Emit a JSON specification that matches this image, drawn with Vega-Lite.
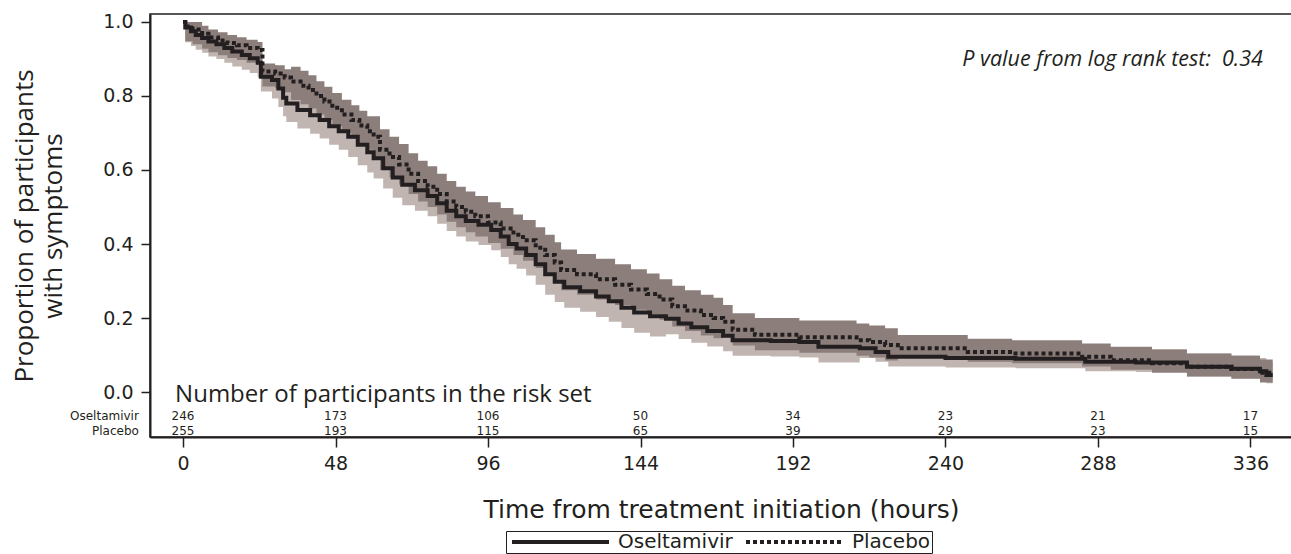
{
  "$schema": "https://vega.github.io/schema/vega-lite/v6.json",
  "width": 1142,
  "height": 423,
  "autosize": {"type": "none"},
  "padding": {"left": 150, "top": 14, "right": 0, "bottom": 117},
  "background": "white",
  "config": {
    "view": {"stroke": "#231f20", "strokeWidth": 1.5},
    "axis": {"grid": false, "domainColor": "#231f20", "tickColor": "#231f20", "labelColor": "#231f20", "titleColor": "#231f20", "labelFont": "DejaVu Sans", "titleFont": "DejaVu Sans", "titleFontWeight": "normal"}
  },
  "datasets": {
    "km": [
      {"g":"Oseltamivir","t":0,"s":1.0,"lo":1.0,"hi":1.0},
      {"g":"Oseltamivir","t":0.7,"s":0.985,"lo":0.945,"hi":1.0},
      {"g":"Oseltamivir","t":2.5,"s":0.975,"lo":0.935,"hi":0.997},
      {"g":"Oseltamivir","t":4,"s":0.965,"lo":0.925,"hi":0.987},
      {"g":"Oseltamivir","t":6,"s":0.957,"lo":0.917,"hi":0.979},
      {"g":"Oseltamivir","t":8,"s":0.947,"lo":0.907,"hi":0.969},
      {"g":"Oseltamivir","t":10.5,"s":0.94,"lo":0.90,"hi":0.962},
      {"g":"Oseltamivir","t":13,"s":0.93,"lo":0.89,"hi":0.952},
      {"g":"Oseltamivir","t":15.5,"s":0.92,"lo":0.88,"hi":0.942},
      {"g":"Oseltamivir","t":18.5,"s":0.911,"lo":0.871,"hi":0.933},
      {"g":"Oseltamivir","t":21,"s":0.902,"lo":0.862,"hi":0.924},
      {"g":"Oseltamivir","t":23.5,"s":0.89,"lo":0.85,"hi":0.912},
      {"g":"Oseltamivir","t":24.5,"s":0.852,"lo":0.812,"hi":0.874},
      {"g":"Oseltamivir","t":28,"s":0.843,"lo":0.793,"hi":0.883},
      {"g":"Oseltamivir","t":30,"s":0.82,"lo":0.77,"hi":0.86},
      {"g":"Oseltamivir","t":31.5,"s":0.795,"lo":0.745,"hi":0.835},
      {"g":"Oseltamivir","t":32.5,"s":0.78,"lo":0.73,"hi":0.82},
      {"g":"Oseltamivir","t":36,"s":0.762,"lo":0.712,"hi":0.802},
      {"g":"Oseltamivir","t":40,"s":0.748,"lo":0.698,"hi":0.788},
      {"g":"Oseltamivir","t":43,"s":0.735,"lo":0.685,"hi":0.775},
      {"g":"Oseltamivir","t":46,"s":0.718,"lo":0.668,"hi":0.758},
      {"g":"Oseltamivir","t":49,"s":0.705,"lo":0.655,"hi":0.745},
      {"g":"Oseltamivir","t":52,"s":0.69,"lo":0.635,"hi":0.745},
      {"g":"Oseltamivir","t":55,"s":0.668,"lo":0.613,"hi":0.723},
      {"g":"Oseltamivir","t":58,"s":0.648,"lo":0.593,"hi":0.703},
      {"g":"Oseltamivir","t":60,"s":0.632,"lo":0.577,"hi":0.687},
      {"g":"Oseltamivir","t":63,"s":0.605,"lo":0.55,"hi":0.66},
      {"g":"Oseltamivir","t":66,"s":0.58,"lo":0.525,"hi":0.635},
      {"g":"Oseltamivir","t":69,"s":0.56,"lo":0.505,"hi":0.615},
      {"g":"Oseltamivir","t":73,"s":0.545,"lo":0.49,"hi":0.6},
      {"g":"Oseltamivir","t":77,"s":0.53,"lo":0.475,"hi":0.585},
      {"g":"Oseltamivir","t":80,"s":0.51,"lo":0.455,"hi":0.565},
      {"g":"Oseltamivir","t":83,"s":0.49,"lo":0.435,"hi":0.545},
      {"g":"Oseltamivir","t":86,"s":0.475,"lo":0.42,"hi":0.53},
      {"g":"Oseltamivir","t":89,"s":0.462,"lo":0.407,"hi":0.517},
      {"g":"Oseltamivir","t":93,"s":0.452,"lo":0.397,"hi":0.507},
      {"g":"Oseltamivir","t":97,"s":0.438,"lo":0.383,"hi":0.493},
      {"g":"Oseltamivir","t":100,"s":0.42,"lo":0.365,"hi":0.475},
      {"g":"Oseltamivir","t":102.5,"s":0.4,"lo":0.345,"hi":0.455},
      {"g":"Oseltamivir","t":105,"s":0.388,"lo":0.333,"hi":0.443},
      {"g":"Oseltamivir","t":108,"s":0.37,"lo":0.315,"hi":0.425},
      {"g":"Oseltamivir","t":111,"s":0.345,"lo":0.29,"hi":0.4},
      {"g":"Oseltamivir","t":114,"s":0.318,"lo":0.263,"hi":0.373},
      {"g":"Oseltamivir","t":117,"s":0.298,"lo":0.243,"hi":0.353},
      {"g":"Oseltamivir","t":120,"s":0.283,"lo":0.228,"hi":0.338},
      {"g":"Oseltamivir","t":125,"s":0.272,"lo":0.217,"hi":0.327},
      {"g":"Oseltamivir","t":130,"s":0.258,"lo":0.203,"hi":0.313},
      {"g":"Oseltamivir","t":134,"s":0.245,"lo":0.19,"hi":0.3},
      {"g":"Oseltamivir","t":138,"s":0.228,"lo":0.173,"hi":0.283},
      {"g":"Oseltamivir","t":142,"s":0.215,"lo":0.16,"hi":0.27},
      {"g":"Oseltamivir","t":147,"s":0.205,"lo":0.15,"hi":0.26},
      {"g":"Oseltamivir","t":152,"s":0.198,"lo":0.156,"hi":0.243},
      {"g":"Oseltamivir","t":156,"s":0.185,"lo":0.143,"hi":0.23},
      {"g":"Oseltamivir","t":160,"s":0.175,"lo":0.133,"hi":0.22},
      {"g":"Oseltamivir","t":165,"s":0.165,"lo":0.123,"hi":0.21},
      {"g":"Oseltamivir","t":170,"s":0.152,"lo":0.11,"hi":0.197},
      {"g":"Oseltamivir","t":173,"s":0.14,"lo":0.098,"hi":0.185},
      {"g":"Oseltamivir","t":185,"s":0.138,"lo":0.096,"hi":0.183},
      {"g":"Oseltamivir","t":194,"s":0.135,"lo":0.093,"hi":0.18},
      {"g":"Oseltamivir","t":200,"s":0.122,"lo":0.08,"hi":0.167},
      {"g":"Oseltamivir","t":213,"s":0.118,"lo":0.092,"hi":0.154},
      {"g":"Oseltamivir","t":218,"s":0.108,"lo":0.082,"hi":0.144},
      {"g":"Oseltamivir","t":222,"s":0.095,"lo":0.069,"hi":0.131},
      {"g":"Oseltamivir","t":240,"s":0.092,"lo":0.066,"hi":0.128},
      {"g":"Oseltamivir","t":262,"s":0.09,"lo":0.064,"hi":0.126},
      {"g":"Oseltamivir","t":284,"s":0.082,"lo":0.056,"hi":0.118},
      {"g":"Oseltamivir","t":300,"s":0.08,"lo":0.054,"hi":0.116},
      {"g":"Oseltamivir","t":316,"s":0.068,"lo":0.042,"hi":0.104},
      {"g":"Oseltamivir","t":330,"s":0.063,"lo":0.037,"hi":0.099},
      {"g":"Oseltamivir","t":339,"s":0.056,"lo":0.032,"hi":0.092},
      {"g":"Oseltamivir","t":341,"s":0.046,"lo":0.024,"hi":0.082},
      {"g":"Oseltamivir","t":343,"s":0.046,"lo":0.024,"hi":0.082},
      {"g":"Placebo","t":0,"s":1.0,"lo":1.0,"hi":1.0},
      {"g":"Placebo","t":0.7,"s":0.988,"lo":0.948,"hi":1.0},
      {"g":"Placebo","t":3,"s":0.98,"lo":0.94,"hi":1.0},
      {"g":"Placebo","t":6,"s":0.968,"lo":0.928,"hi":0.99},
      {"g":"Placebo","t":8,"s":0.958,"lo":0.918,"hi":0.98},
      {"g":"Placebo","t":11,"s":0.95,"lo":0.91,"hi":0.972},
      {"g":"Placebo","t":14,"s":0.943,"lo":0.903,"hi":0.965},
      {"g":"Placebo","t":17,"s":0.937,"lo":0.897,"hi":0.959},
      {"g":"Placebo","t":20,"s":0.93,"lo":0.89,"hi":0.952},
      {"g":"Placebo","t":23.5,"s":0.924,"lo":0.884,"hi":0.946},
      {"g":"Placebo","t":25,"s":0.866,"lo":0.826,"hi":0.888},
      {"g":"Placebo","t":29,"s":0.861,"lo":0.821,"hi":0.883},
      {"g":"Placebo","t":32,"s":0.85,"lo":0.81,"hi":0.872},
      {"g":"Placebo","t":34,"s":0.839,"lo":0.789,"hi":0.879},
      {"g":"Placebo","t":37,"s":0.828,"lo":0.778,"hi":0.868},
      {"g":"Placebo","t":39.5,"s":0.816,"lo":0.766,"hi":0.856},
      {"g":"Placebo","t":42,"s":0.8,"lo":0.75,"hi":0.84},
      {"g":"Placebo","t":44.5,"s":0.785,"lo":0.735,"hi":0.825},
      {"g":"Placebo","t":47,"s":0.768,"lo":0.718,"hi":0.808},
      {"g":"Placebo","t":50,"s":0.75,"lo":0.70,"hi":0.79},
      {"g":"Placebo","t":53,"s":0.735,"lo":0.685,"hi":0.775},
      {"g":"Placebo","t":55.5,"s":0.72,"lo":0.67,"hi":0.76},
      {"g":"Placebo","t":58,"s":0.705,"lo":0.655,"hi":0.745},
      {"g":"Placebo","t":60,"s":0.69,"lo":0.635,"hi":0.745},
      {"g":"Placebo","t":62,"s":0.655,"lo":0.6,"hi":0.71},
      {"g":"Placebo","t":65,"s":0.635,"lo":0.58,"hi":0.69},
      {"g":"Placebo","t":68,"s":0.615,"lo":0.56,"hi":0.67},
      {"g":"Placebo","t":71,"s":0.59,"lo":0.535,"hi":0.645},
      {"g":"Placebo","t":74,"s":0.57,"lo":0.515,"hi":0.625},
      {"g":"Placebo","t":77,"s":0.555,"lo":0.5,"hi":0.61},
      {"g":"Placebo","t":80,"s":0.535,"lo":0.48,"hi":0.59},
      {"g":"Placebo","t":83,"s":0.515,"lo":0.46,"hi":0.57},
      {"g":"Placebo","t":86,"s":0.5,"lo":0.445,"hi":0.555},
      {"g":"Placebo","t":89,"s":0.487,"lo":0.432,"hi":0.542},
      {"g":"Placebo","t":92,"s":0.475,"lo":0.42,"hi":0.53},
      {"g":"Placebo","t":96,"s":0.458,"lo":0.403,"hi":0.513},
      {"g":"Placebo","t":100,"s":0.442,"lo":0.387,"hi":0.497},
      {"g":"Placebo","t":104,"s":0.425,"lo":0.37,"hi":0.48},
      {"g":"Placebo","t":107,"s":0.41,"lo":0.355,"hi":0.465},
      {"g":"Placebo","t":111,"s":0.39,"lo":0.335,"hi":0.445},
      {"g":"Placebo","t":114,"s":0.37,"lo":0.315,"hi":0.425},
      {"g":"Placebo","t":117,"s":0.35,"lo":0.295,"hi":0.405},
      {"g":"Placebo","t":119,"s":0.33,"lo":0.275,"hi":0.385},
      {"g":"Placebo","t":124,"s":0.318,"lo":0.263,"hi":0.373},
      {"g":"Placebo","t":130,"s":0.305,"lo":0.25,"hi":0.36},
      {"g":"Placebo","t":136,"s":0.29,"lo":0.235,"hi":0.345},
      {"g":"Placebo","t":141,"s":0.277,"lo":0.222,"hi":0.332},
      {"g":"Placebo","t":146,"s":0.265,"lo":0.21,"hi":0.32},
      {"g":"Placebo","t":150,"s":0.25,"lo":0.195,"hi":0.305},
      {"g":"Placebo","t":154,"s":0.232,"lo":0.177,"hi":0.287},
      {"g":"Placebo","t":158,"s":0.22,"lo":0.165,"hi":0.275},
      {"g":"Placebo","t":163,"s":0.208,"lo":0.153,"hi":0.263},
      {"g":"Placebo","t":167,"s":0.2,"lo":0.145,"hi":0.255},
      {"g":"Placebo","t":170,"s":0.19,"lo":0.148,"hi":0.235},
      {"g":"Placebo","t":173,"s":0.168,"lo":0.126,"hi":0.213},
      {"g":"Placebo","t":180,"s":0.155,"lo":0.113,"hi":0.2},
      {"g":"Placebo","t":194,"s":0.148,"lo":0.106,"hi":0.193},
      {"g":"Placebo","t":212,"s":0.14,"lo":0.098,"hi":0.185},
      {"g":"Placebo","t":216,"s":0.135,"lo":0.093,"hi":0.18},
      {"g":"Placebo","t":221,"s":0.127,"lo":0.085,"hi":0.172},
      {"g":"Placebo","t":225,"s":0.118,"lo":0.092,"hi":0.154},
      {"g":"Placebo","t":247,"s":0.108,"lo":0.082,"hi":0.144},
      {"g":"Placebo","t":261,"s":0.104,"lo":0.078,"hi":0.14},
      {"g":"Placebo","t":283,"s":0.095,"lo":0.069,"hi":0.131},
      {"g":"Placebo","t":292,"s":0.086,"lo":0.06,"hi":0.122},
      {"g":"Placebo","t":305,"s":0.078,"lo":0.052,"hi":0.114},
      {"g":"Placebo","t":316,"s":0.068,"lo":0.042,"hi":0.104},
      {"g":"Placebo","t":330,"s":0.062,"lo":0.036,"hi":0.098},
      {"g":"Placebo","t":339,"s":0.052,"lo":0.026,"hi":0.088},
      {"g":"Placebo","t":343,"s":0.052,"lo":0.026,"hi":0.088}
    ],
    "risk": [
      {"g":"Oseltamivir","t":0,"n":246},{"g":"Oseltamivir","t":48,"n":173},{"g":"Oseltamivir","t":96,"n":106},{"g":"Oseltamivir","t":144,"n":50},
      {"g":"Oseltamivir","t":192,"n":34},{"g":"Oseltamivir","t":240,"n":23},{"g":"Oseltamivir","t":288,"n":21},{"g":"Oseltamivir","t":336,"n":17},
      {"g":"Placebo","t":0,"n":255},{"g":"Placebo","t":48,"n":193},{"g":"Placebo","t":96,"n":115},{"g":"Placebo","t":144,"n":65},
      {"g":"Placebo","t":192,"n":39},{"g":"Placebo","t":240,"n":29},{"g":"Placebo","t":288,"n":23},{"g":"Placebo","t":336,"n":15}
    ]
  },
  "layer": [
    {
      "data": {"name": "km"},
      "transform": [{"filter": "datum.g === 'Oseltamivir'"}],
      "mark": {"type": "area", "interpolate": "step-after", "color": "#c1b5b2", "opacity": 1},
      "encoding": {
        "x": {"field": "t", "type": "quantitative", "scale": {"domain": [-10.4, 349.07], "nice": false, "zero": false},
          "axis": {"values": [0,48,96,144,192,240,288,336], "title": "Time from treatment initiation (hours)", "tickSize": 10, "tickWidth": 1.5, "domainWidth": 2, "labelFontSize": 19, "labelPadding": 7, "titleFontSize": 25, "titlePadding": 24}},
        "y": {"field": "lo", "type": "quantitative", "scale": {"domain": [-0.1216, 1.0216], "nice": false, "zero": false},
          "axis": {"values": [0,0.2,0.4,0.6,0.8,1.0], "format": ".1f", "title": ["Proportion of participants", "with symptoms"], "titleFont": "Open Sans", "titleFontSize": 26, "titleLineHeight": 29, "titlePadding": 36, "tickSize": 9, "tickWidth": 1.5, "domainWidth": 2, "labelFontSize": 19, "labelPadding": 8}},
        "y2": {"field": "hi"}
      }
    },
    {
      "data": {"name": "km"},
      "transform": [{"filter": "datum.g === 'Placebo'"}],
      "mark": {"type": "area", "interpolate": "step-after", "color": "#8c7f7b", "opacity": 1},
      "encoding": {
        "x": {"field": "t", "type": "quantitative"},
        "y": {"field": "lo", "type": "quantitative"},
        "y2": {"field": "hi"}
      }
    },
    {
      "data": {"name": "km"},
      "mark": {"type": "line", "interpolate": "step-after", "color": "#231f20", "strokeWidth": 4, "strokeCap": "butt"},
      "encoding": {
        "x": {"field": "t", "type": "quantitative"},
        "y": {"field": "s", "type": "quantitative"},
        "detail": {"field": "g"},
        "strokeDash": {"field": "g", "type": "nominal", "scale": {"domain": ["Oseltamivir", "Placebo"], "range": [[1, 0], [4, 3]]},
          "legend": {"title": null, "orient": "none", "legendX": 356, "legendY": 517, "direction": "horizontal", "symbolType": "M-1,0H18.4", "symbolSize": 100, "symbolStrokeWidth": 4, "symbolStrokeColor": "#231f20", "labelFont": "DejaVu Sans", "labelFontSize": 20, "labelColor": "#231f20", "labelOffset": 91, "columnPadding": 5, "padding": 1, "strokeColor": "#231f20"}}
      }
    },
    {
      "data": {"name": "risk"},
      "transform": [{"filter": "datum.g === 'Oseltamivir'"}],
      "mark": {"type": "text", "font": "DejaVu Sans", "fontSize": 12, "color": "#231f20", "align": "center", "baseline": "alphabetic"},
      "encoding": {
        "x": {"field": "t", "type": "quantitative"},
        "y": {"datum": -0.0757},
        "text": {"field": "n"}
      }
    },
    {
      "data": {"name": "risk"},
      "transform": [{"filter": "datum.g === 'Placebo'"}],
      "mark": {"type": "text", "font": "DejaVu Sans", "fontSize": 12, "color": "#231f20", "align": "center", "baseline": "alphabetic"},
      "encoding": {
        "x": {"field": "t", "type": "quantitative"},
        "y": {"datum": -0.1162},
        "text": {"field": "n"}
      }
    },
    {
      "data": {"values": [{}]},
      "mark": {"type": "text", "text": "Oseltamivir", "font": "DejaVu Sans", "fontSize": 12, "color": "#231f20", "align": "right", "baseline": "alphabetic"},
      "encoding": {"x": {"datum": -13.9}, "y": {"datum": -0.0757}}
    },
    {
      "data": {"values": [{}]},
      "mark": {"type": "text", "text": "Placebo", "font": "DejaVu Sans", "fontSize": 12, "color": "#231f20", "align": "right", "baseline": "alphabetic"},
      "encoding": {"x": {"datum": -13.9}, "y": {"datum": -0.1162}}
    },
    {
      "data": {"values": [{}]},
      "mark": {"type": "text", "text": "Number of participants in the risk set", "font": "Open Sans", "fontSize": 24, "color": "#231f20", "align": "left", "baseline": "alphabetic"},
      "encoding": {"x": {"datum": -2.5}, "y": {"datum": -0.026}}
    },
    {
      "data": {"values": [{}]},
      "mark": {"type": "text", "text": "P value from log rank test:\u00a0 0.34", "font": "Open Sans", "fontStyle": "italic", "fontSize": 21.5, "color": "#231f20", "align": "right", "baseline": "alphabetic"},
      "encoding": {"x": {"datum": 339.9}, "y": {"datum": 0.881}}
    }
  ]
}
